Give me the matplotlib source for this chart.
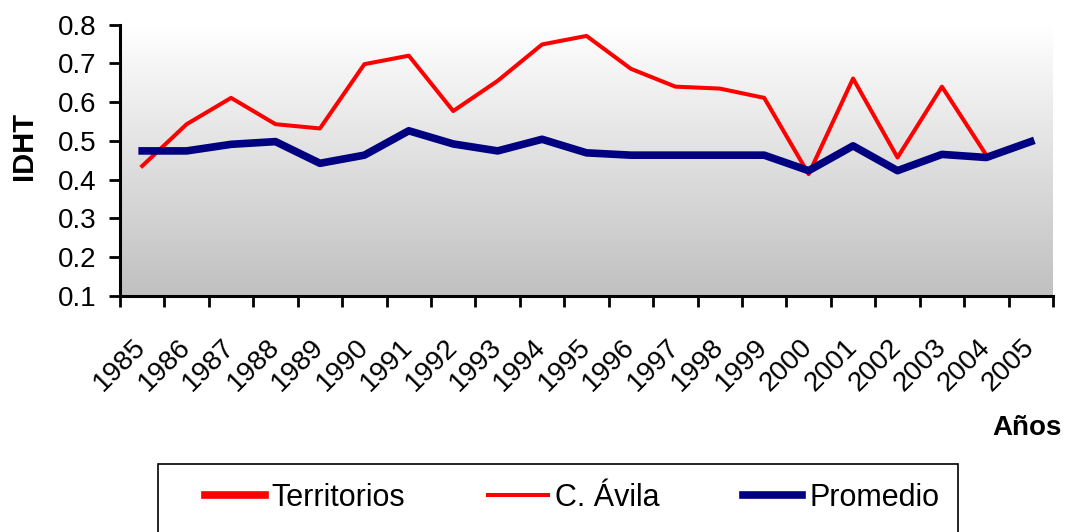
import numpy as np
import matplotlib
matplotlib.use("Agg")
import matplotlib.pyplot as plt
from matplotlib.colors import LinearSegmentedColormap
from matplotlib.patches import Rectangle
from matplotlib.ticker import FixedLocator, NullFormatter

plt.rcParams['font.family'] = ['Liberation Sans', 'DejaVu Sans']

# data
years = [str(y) for y in range(1985, 2006)]
territorios = [None] * 21   # in the legend, no visible line
c_avila = [0.435, 0.543, 0.611, 0.543, 0.532, 0.698, 0.720, 0.577, 0.655, 0.749, 0.771,
           0.686, 0.640, 0.635, 0.611, 0.414, 0.661, 0.457, 0.640, 0.463, None]
promedio = [0.474, 0.474, 0.491, 0.498, 0.442, 0.463, 0.526, 0.492, 0.474, 0.504, 0.469,
            0.463, 0.463, 0.463, 0.463, 0.423, 0.487, 0.423, 0.465, 0.457, 0.498]
y_ticks = [0.1, 0.2, 0.3, 0.4, 0.5, 0.6, 0.7, 0.8]

x = np.arange(len(years)) + 0.5
terr = np.array(territorios, dtype=float)
avila = np.array(c_avila, dtype=float)
prom = np.array(promedio, dtype=float)

fig = plt.figure(figsize=(10.72, 5.32), dpi=100)
ax = fig.add_axes([120 / 1072, 1 - 295.7 / 532, (1053 - 120) / 1072, (295.7 - 24.7) / 532])

# gradient background, white at the top to grey at the bottom
grad = LinearSegmentedColormap.from_list('bg', ['#c0c0c0', '#ffffff'])
ax.imshow(np.linspace(0, 1, 256).reshape(-1, 1), extent=(0, 21, 0.1, 0.8), origin='lower',
          aspect='auto', cmap=grad, zorder=0)

ax.plot(x, terr, color='#ff0000', lw=5.5, label='Territorios', zorder=3)
ax.plot(x, avila, color='#ff0000', lw=2.9, label='C. Ávila', zorder=3)
ax.plot(x, prom, color='#000080', lw=5.5, label='Promedio', zorder=4)

ax.set_xlim(0, 21)
ax.set_ylim(0.1, 0.8)
ax.set_yticks(y_ticks)
ax.set_yticklabels([f'{v:.1f}' for v in y_ticks])

# ticks on the category edges, labels in the middle
ax.xaxis.set_major_locator(FixedLocator(np.arange(0, 22)))
ax.xaxis.set_major_formatter(NullFormatter())
ax.xaxis.set_minor_locator(FixedLocator(x))
ax.set_xticklabels(years, minor=True)
ax.tick_params(axis='x', which='minor', length=0, pad=34, labelsize=20)
for lab in ax.get_xticklabels(minor=True):
    lab.set_rotation(45)
    lab.set_ha('right')
    lab.set_va('center')
    lab.set_rotation_mode('anchor')

ax.tick_params(axis='both', which='major', direction='out', length=8, width=2, color='black')
ax.tick_params(axis='y', labelsize=20, pad=9)

for side in ['top', 'right']:
    ax.spines[side].set_visible(False)
for side in ['left', 'bottom']:
    ax.spines[side].set_linewidth(2.2)

fig.text(24 / 1072, 1 - 146 / 532, 'IDHT', rotation=90, ha='center', va='center',
         fontsize=21, fontweight='bold')
fig.text(1062 / 1072, 1 - 428 / 532, 'Años', ha='right', va='center',
         fontsize=20, fontweight='bold')

# legend box, cut off by the bottom edge as in the original
fig.patches.append(Rectangle((158 / 1072, -0.1), 800 / 1072, 0.1 + 68 / 532,
                             transform=fig.transFigure, fill=False, edgecolor='black', lw=1.2))
leg = fig.legend(loc='center left', bbox_to_anchor=(205 / 1072, 1 - 498 / 532), ncol=3,
                 frameon=False, fontsize=22, borderpad=0, borderaxespad=0, handlelength=1.95,
                 handletextpad=0.23, columnspacing=2.72)

fig.savefig('out.png', dpi=100)
